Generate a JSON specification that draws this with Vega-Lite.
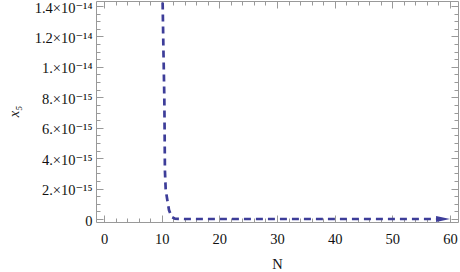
{
  "$schema": "https://vega.github.io/schema/vega-lite/v6.json",
  "width": 362,
  "height": 221,
  "autosize": {"type": "none"},
  "padding": {"left": 96, "top": 1, "right": 2, "bottom": 50},
  "background": "white",
  "config": {
    "view": {"stroke": null},
    "axis": {
      "domainColor": "#999999",
      "tickColor": "#999999",
      "labelFont": "Times New Roman, Liberation Serif, DejaVu Serif, serif",
      "labelFontSize": 14.5,
      "labelColor": "#111111",
      "titleFont": "Times New Roman, Liberation Serif, DejaVu Serif, serif",
      "titleFontWeight": "normal",
      "titleFontSize": 14.5,
      "titleColor": "#111111",
      "grid": false,
      "labelOverlap": false,
      "labelFlush": false
    }
  },
  "datasets": {
    "curve": [
      {"N": 10.0, "x5": 1.66e-14},
      {"N": 10.18, "x5": 1.394e-14},
      {"N": 10.32, "x5": 1.08e-14},
      {"N": 10.46, "x5": 0.796e-14},
      {"N": 10.51, "x5": 0.585e-14},
      {"N": 10.56, "x5": 0.322e-14},
      {"N": 10.7, "x5": 0.191e-14},
      {"N": 10.98, "x5": 0.125e-14},
      {"N": 11.27, "x5": 0.059e-14},
      {"N": 11.74, "x5": 0.013e-14},
      {"N": 12.3, "x5": 0.002e-14},
      {"N": 14, "x5": 0},
      {"N": 20, "x5": 0},
      {"N": 30, "x5": 0},
      {"N": 40, "x5": 0},
      {"N": 50, "x5": 0},
      {"N": 57.8, "x5": 0}
    ],
    "arrow": [{"N": 58.8, "x5": 0}]
  },
  "layer": [
    {
      "data": {"name": "curve"},
      "mark": {"type": "line", "color": "#3d3d99", "strokeWidth": 2.7, "strokeDash": [7, 5], "clip": true},
      "encoding": {
        "x": {
          "field": "N", "type": "quantitative",
          "scale": {"domain": [-1.39, 61.39], "nice": false, "zero": false},
          "axis": {
            "orient": "bottom",
            "values": [0,2,4,6,8,10,12,14,16,18,20,22,24,26,28,30,32,34,36,38,40,42,44,46,48,50,52,54,56,58,60],
            "labelExpr": "datum.value % 10 ? '' : datum.label",
            "tickSize": {"condition": {"test": "datum.value % 10 === 0", "value": -7}, "value": -4},
            "labelPadding": 17,
            "title": "N",
            "titleX": 181,
            "titleY": 42,
            "titleAlign": "center",
            "titleBaseline": "middle"
          }
        },
        "y": {
          "field": "x5", "type": "quantitative",
          "scale": {"domain": [-0.0197e-14, 1.433e-14], "nice": false, "zero": false},
          "axis": {
            "orient": "left",
            "values": [0,5e-16,1e-15,1.5e-15,2e-15,2.5e-15,3e-15,3.5e-15,4e-15,4.5e-15,5e-15,5.5e-15,6e-15,6.5e-15,7e-15,7.5e-15,8e-15,8.5e-15,9e-15,9.5e-15,1e-14,1.05e-14,1.1e-14,1.15e-14,1.2e-14,1.25e-14,1.3e-14,1.35e-14,1.4e-14],
            "labelExpr": "round(datum.value/5e-16) % 4 ? '' : ['0','2.×10⁻¹⁵','4.×10⁻¹⁵','6.×10⁻¹⁵','8.×10⁻¹⁵','1.×10⁻¹⁴','1.2×10⁻¹⁴','1.4×10⁻¹⁴'][round(datum.value/2e-15)]",
            "tickSize": {"condition": {"test": "round(datum.value/5e-16) % 4 === 0", "value": -7}, "value": -4},
            "labelPadding": 11,
            "labelOffset": 2,
            "title": "x₅",
            "titleFontStyle": "italic",
            "titleX": -82,
            "titleY": 110,
            "titleAngle": -90,
            "titleAlign": "center",
            "titleBaseline": "middle"
          }
        }
      }
    },
    {
      "data": {"name": "arrow"},
      "mark": {"type": "point", "shape": "M-1,-0.43L1,0L-1,0.43Z", "filled": true, "color": "#3d3d99", "size": 196, "opacity": 1},
      "encoding": {
        "x": {
          "field": "N", "type": "quantitative",
          "axis": {
            "orient": "top",
            "values": [0,2,4,6,8,10,12,14,16,18,20,22,24,26,28,30,32,34,36,38,40,42,44,46,48,50,52,54,56,58,60],
            "labels": false,
            "tickSize": {"condition": {"test": "datum.value % 10 === 0", "value": -7}, "value": -4},
            "title": null
          }
        },
        "y": {
          "field": "x5", "type": "quantitative",
          "axis": {
            "orient": "right",
            "values": [0,5e-16,1e-15,1.5e-15,2e-15,2.5e-15,3e-15,3.5e-15,4e-15,4.5e-15,5e-15,5.5e-15,6e-15,6.5e-15,7e-15,7.5e-15,8e-15,8.5e-15,9e-15,9.5e-15,1e-14,1.05e-14,1.1e-14,1.15e-14,1.2e-14,1.25e-14,1.3e-14,1.35e-14,1.4e-14],
            "labels": false,
            "tickSize": {"condition": {"test": "round(datum.value/5e-16) % 4 === 0", "value": -7}, "value": -4},
            "title": null
          }
        }
      }
    }
  ],
  "resolve": {"axis": {"x": "independent", "y": "independent"}}
}
